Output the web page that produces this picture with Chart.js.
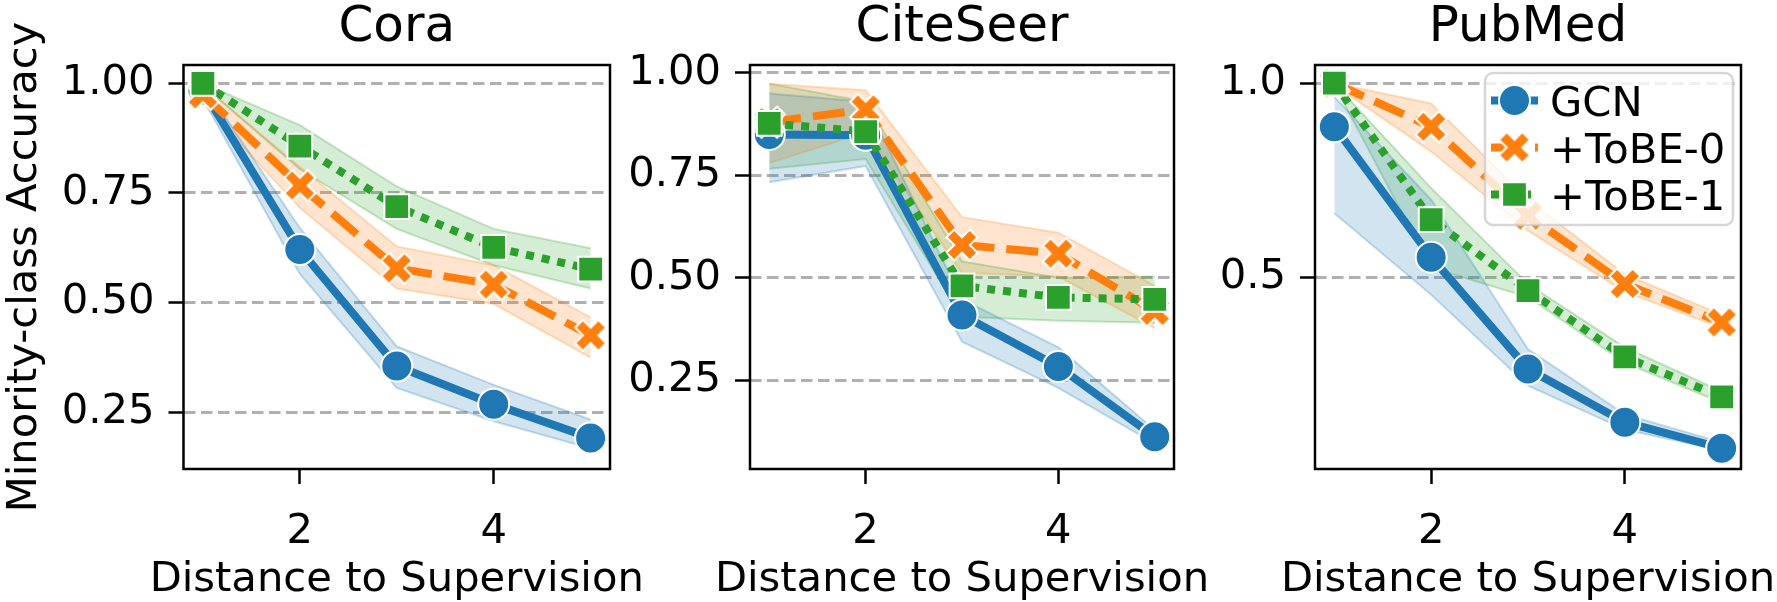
<!DOCTYPE html>
<html>
<head>
<meta charset="utf-8">
<title>Minority-class accuracy vs distance to supervision</title>
<script src="https://cdn.jsdelivr.net/npm/chart.js@4.4.0/dist/chart.umd.min.js"></script>
<style>
  html, body { margin: 0; padding: 0; background: #fff; }
  #wrap { position: relative; width: 1777px; height: 602px; }
  #wrap canvas { position: absolute; left: 0; top: 0; }
</style>
</head>
<body>
<div id="wrap">
  <canvas id="cora" width="1777" height="602"></canvas>
  <canvas id="citeseer" width="1777" height="602"></canvas>
  <canvas id="pubmed" width="1777" height="602"></canvas>
</div>
<script>
// ---- data ----
const distances = [1, 2, 3, 4, 5];
const methodNames = ["GCN", "+ToBE-0", "+ToBE-1"];
const xTicks = [2, 4];

// Cora
const coraGcn     = [0.985, 0.621, 0.355, 0.268, 0.191];
const coraGcnLo   = [0.965, 0.565, 0.305, 0.229, 0.167];
const coraGcnHi   = [1.000, 0.670, 0.400, 0.312, 0.233];
const coraTobe0   = [0.975, 0.767, 0.578, 0.541, 0.425];
const coraTobe0Lo = [0.955, 0.716, 0.532, 0.497, 0.374];
const coraTobe0Hi = [0.995, 0.809, 0.628, 0.585, 0.466];
const coraTobe1   = [1.000, 0.857, 0.719, 0.626, 0.576];
const coraTobe1Lo = [0.995, 0.804, 0.668, 0.585, 0.532];
const coraTobe1Hi = [1.000, 0.905, 0.765, 0.668, 0.624];
const coraTicks = [0.25, 0.5, 0.75, 1.0];

// CiteSeer
const citeGcn     = [0.850, 0.848, 0.409, 0.283, 0.112];
const citeGcnLo   = [0.733, 0.773, 0.344, 0.231, 0.095];
const citeGcnHi   = [0.950, 0.930, 0.447, 0.330, 0.128];
const citeTobe0   = [0.880, 0.911, 0.580, 0.559, 0.419];
const citeTobe0Lo = [0.780, 0.855, 0.512, 0.503, 0.377];
const citeTobe0Hi = [0.974, 0.958, 0.648, 0.610, 0.480];
const citeTobe1   = [0.877, 0.857, 0.480, 0.452, 0.447];
const citeTobe1Lo = [0.766, 0.790, 0.405, 0.395, 0.390];
const citeTobe1Hi = [0.974, 0.930, 0.540, 0.500, 0.503];
const citeTicks = [0.25, 0.5, 0.75, 1.0];

// PubMed
const pubGcn     = [0.888, 0.552, 0.264, 0.127, 0.060];
const pubGcnLo   = [0.665, 0.455, 0.221, 0.108, 0.054];
const pubGcnHi   = [0.965, 0.700, 0.315, 0.147, 0.075];
const pubTobe0   = [1.000, 0.888, 0.659, 0.483, 0.384];
const pubTobe0Lo = [0.995, 0.824, 0.620, 0.463, 0.370];
const pubTobe0Hi = [1.000, 0.948, 0.700, 0.508, 0.404];
const pubTobe1   = [1.000, 0.649, 0.466, 0.295, 0.192];
const pubTobe1Lo = [0.995, 0.525, 0.449, 0.280, 0.177];
const pubTobe1Hi = [1.000, 0.730, 0.483, 0.320, 0.206];
const pubTicks = [0.5, 1.0];

// ---- styling ----
const FONT = "'DejaVu Sans', 'Liberation Sans', sans-serif";
const FS = 41.7;          // base font size (ticks, labels, legend)
const TITLE_FS = 50;
const COLORS = ["#1f77b4", "#ff7f0e", "#2ca02c"];
const DASHES = [[], [32, 12], [8, 8]];
const LINE_W = 8;

Chart.defaults.font.family = FONT;
Chart.defaults.color = "#000";

function rgba(hex, a) {
  const n = parseInt(hex.slice(1), 16);
  return `rgba(${n >> 16}, ${(n >> 8) & 255}, ${n & 255}, ${a})`;
}

// filled "X" marker like matplotlib's, as an image
function makeXMarker(size, color) {
  const c = document.createElement("canvas");
  const half = Math.ceil(size * 0.4714 + 2);
  c.width = c.height = half * 2;
  const ctx = c.getContext("2d");
  ctx.translate(half, half);
  ctx.rotate(Math.PI / 4);
  const u = size / 6;
  const pts = [[-1,-3],[1,-3],[1,-1],[3,-1],[3,1],[1,1],[1,3],[-1,3],[-1,1],[-3,1],[-3,-1],[-1,-1]];
  ctx.beginPath();
  pts.forEach(([px, py], i) => i ? ctx.lineTo(px * u, py * u) : ctx.moveTo(px * u, py * u));
  ctx.closePath();
  ctx.fillStyle = color;
  ctx.fill();
  ctx.strokeStyle = "#fff";
  ctx.lineWidth = 2;
  ctx.lineJoin = "miter";
  ctx.stroke();
  return c;
}

const xImg = makeXMarker(33, COLORS[1]);
const POINT_STYLES = ["circle", xImg, "rect"];
const POINT_RADIUS = [15.5, 15, 17.5];

function toXY(ys) {
  return ys.map((y, i) => ({ x: distances[i], y: y }));
}

function buildDatasets(means, lows, highs) {
  const bands = [];
  const lines = [];
  means.forEach((m, k) => {
    const c = COLORS[k];
    bands.push({
      data: toXY(lows[k]), borderColor: rgba(c, 0.25), borderWidth: 2,
      pointRadius: 0, fill: false, order: 10
    });
    bands.push({
      data: toXY(highs[k]), borderColor: rgba(c, 0.25), borderWidth: 2,
      pointRadius: 0, fill: "-1", backgroundColor: rgba(c, 0.2), order: 10
    });
    lines.push({
      label: methodNames[k],
      data: toXY(m),
      borderColor: c,
      borderWidth: LINE_W,
      borderDash: DASHES[k],
      borderCapStyle: "butt",
      pointStyle: POINT_STYLES[k],
      pointRadius: POINT_RADIUS[k],
      pointBackgroundColor: c,
      pointBorderColor: "#fff",
      pointBorderWidth: 2,
      fill: false,
      order: 3 - k
    });
  });
  return bands.concat(lines);
}

// axes box on top of the data
const framePlugin = {
  id: "frame",
  afterDatasetsDraw(chart) {
    const { ctx, chartArea: a } = chart;
    ctx.save();
    ctx.strokeStyle = "#000";
    ctx.lineWidth = 2.5;
    ctx.strokeRect(a.left, a.top, a.right - a.left, a.bottom - a.top);
    ctx.restore();
  }
};

// axis titles drawn at full width (Chart.js squeezes long titles to the axis length)
const axisLabelPlugin = {
  id: "axisLabels",
  afterDraw(chart, args, opts) {
    const { ctx, chartArea: a } = chart;
    ctx.save();
    ctx.fillStyle = "#000";
    ctx.font = `${FS}px ${FONT}`;
    ctx.textAlign = "center";
    ctx.textBaseline = "alphabetic";
    ctx.fillText(opts.x, (a.left + a.right) / 2, 591);
    if (opts.y) {
      ctx.translate(36, (a.top + a.bottom) / 2);
      ctx.rotate(-Math.PI / 2);
      ctx.fillText(opts.y, 0, 0);
    }
    ctx.restore();
  }
};

function drawMarker(ctx, k, x, y) {
  const c = COLORS[k];
  if (k === 1) {
    ctx.drawImage(xImg, x - xImg.width / 2, y - xImg.height / 2);
    return;
  }
  ctx.fillStyle = c;
  ctx.strokeStyle = "#fff";
  ctx.lineWidth = 2;
  ctx.beginPath();
  if (k === 0) {
    ctx.arc(x, y, POINT_RADIUS[0], 0, Math.PI * 2);
  } else {
    const s = POINT_RADIUS[2] * Math.SQRT1_2;
    ctx.rect(x - s, y - s, 2 * s, 2 * s);
  }
  ctx.fill();
  ctx.stroke();
}

const legendPlugin = {
  id: "mplLegend",
  afterDatasetsDraw(chart, args, opts) {
    if (!opts.show) return;
    const { ctx, chartArea: a } = chart;
    const w = 248, h = 152;
    const x0 = a.right - 8 - w, y0 = a.top + 8;
    ctx.save();
    ctx.beginPath();
    ctx.roundRect(x0, y0, w, h, 8);
    ctx.fillStyle = "rgba(255,255,255,0.8)";
    ctx.fill();
    ctx.strokeStyle = "rgba(204,204,204,0.8)";
    ctx.lineWidth = 2.5;
    ctx.stroke();
    methodNames.forEach((name, k) => {
      const cy = y0 + 27.5 + k * 47;
      ctx.save();
      ctx.strokeStyle = COLORS[k];
      ctx.lineWidth = LINE_W;
      ctx.lineCap = "butt";
      ctx.setLineDash(DASHES[k]);
      ctx.beginPath();
      ctx.moveTo(x0 + 6, cy);
      ctx.lineTo(x0 + 53, cy);
      ctx.stroke();
      ctx.restore();
      drawMarker(ctx, k, x0 + 29.5, cy);
      ctx.fillStyle = "#000";
      ctx.font = `${FS}px ${FONT}`;
      ctx.textBaseline = "alphabetic";
      ctx.textAlign = "left";
      ctx.fillText(name, x0 + 65, cy + 15);
    });
    ctx.restore();
  }
};

function makePanel(id, title, area, yRange, yTicks, decimals, datasets, opts) {
  const W = 1777;
  const yAxisW = 140;
  new Chart(document.getElementById(id), {
    type: "line",
    data: { datasets: datasets },
    plugins: [framePlugin, legendPlugin, axisLabelPlugin],
    options: {
      responsive: false,
      animation: false,
      events: [],
      layout: { padding: { left: area.left - yAxisW, right: W - area.right, top: 0, bottom: 0 } },
      scales: {
        x: {
          type: "linear",
          min: 0.8, max: 5.2,
          afterBuildTicks: (s) => { s.ticks = xTicks.map(v => ({ value: v })); },
          afterFit: (s) => { s.height = 602 - area.bottom; },
          grid: { drawOnChartArea: false, drawTicks: true, tickLength: 15, tickWidth: 2.5, tickColor: "#000" },
          border: { display: false },
          ticks: { font: { size: FS }, padding: 23, callback: (v) => v.toFixed(0), maxRotation: 0 }
        },
        y: {
          type: "linear",
          min: yRange[0], max: yRange[1],
          afterBuildTicks: (s) => { s.ticks = yTicks.map(v => ({ value: v })); },
          afterFit: (s) => { s.width = yAxisW; },
          grid: { color: "#b0b0b0", lineWidth: 3, drawTicks: true, tickLength: 15, tickWidth: 2.5, tickColor: "#000" },
          border: { display: false, dash: [11.5, 5.5] },
          ticks: { font: { size: FS }, padding: 14, callback: (v) => v.toFixed(decimals) }
        }
      },
      plugins: {
        legend: { display: false },
        tooltip: { enabled: false },
        filler: { drawTime: "beforeDatasetsDraw" },
        title: {
          display: true, text: title, fullSize: false,
          font: { size: TITLE_FS, weight: "normal", lineHeight: 1 },
          padding: { top: 3, bottom: area.top - TITLE_FS - 3 }
        },
        mplLegend: { show: !!opts.legend },
        axisLabels: { x: "Distance to Supervision", y: opts.yLabel ? "Minority-class Accuracy" : "" }
      }
    }
  });
}

makePanel("cora", "Cora", { left: 183.5, right: 610, top: 65, bottom: 469 },
  [0.12, 1.042], coraTicks, 2,
  buildDatasets([coraGcn, coraTobe0, coraTobe1], [coraGcnLo, coraTobe0Lo, coraTobe1Lo], [coraGcnHi, coraTobe0Hi, coraTobe1Hi]),
  { yLabel: true });

makePanel("citeseer", "CiteSeer", { left: 750, right: 1174, top: 65, bottom: 469 },
  [0.033, 1.0195], citeTicks, 2,
  buildDatasets([citeGcn, citeTobe0, citeTobe1], [citeGcnLo, citeTobe0Lo, citeTobe1Lo], [citeGcnHi, citeTobe0Hi, citeTobe1Hi]),
  {});

makePanel("pubmed", "PubMed", { left: 1315, right: 1741, top: 65, bottom: 469 },
  [0.0064, 1.047], pubTicks, 1,
  buildDatasets([pubGcn, pubTobe0, pubTobe1], [pubGcnLo, pubTobe0Lo, pubTobe1Lo], [pubGcnHi, pubTobe0Hi, pubTobe1Hi]),
  { legend: true });
</script>
</body>
</html>
